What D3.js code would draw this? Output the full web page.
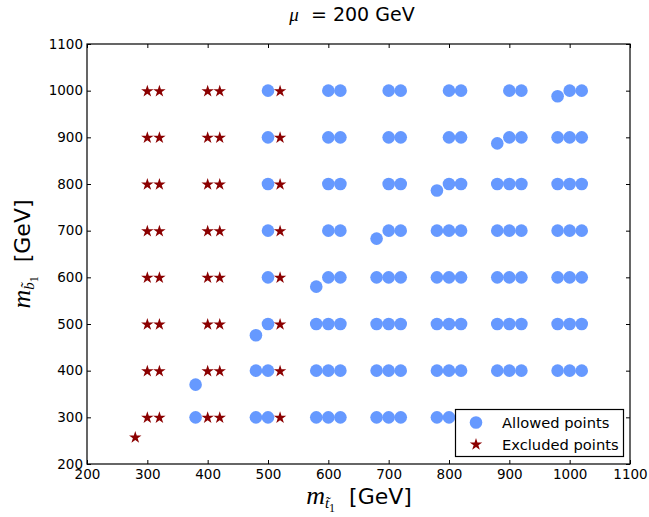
<!DOCTYPE html>
<html><head><meta charset="utf-8">
<script src="https://cdn.jsdelivr.net/npm/d3@7"></script>
<style>
body{margin:0;background:#fff;}
text{font-family:"DejaVu Sans",sans-serif;}
</style></head>
<body><svg id="c" width="649" height="517"></svg>
<script>
// ---- data ----
const allowedX = [500,600,620,700,720,800,820,900,920,1000,1020,
                  500,600,620,700,720,800,820,900,920,980,1000,1020,
                  500,600,620,700,720,800,820,880,900,920,980,1000,1020,
                  500,600,620,700,720,780,800,820,880,900,920,980,1000,1020,
                  500,600,620,680,700,720,780,800,820,880,900,920,980,1000,1020,
                  500,580,600,620,680,700,720,780,800,820,880,900,920,980,1000,1020,
                  480,500,580,600,620,680,700,720,780,800,820,880,900,920,980,1000,1020,
                  380,480,500,580,600,620,680,700,720,780,800,820,880,900,920,980,1000,1020,
                  980,880,780,680,580,480,380];
const allowedY = [1000,1000,1000,1000,1000,1000,1000,1000,1000,1000,1000,
                  900,900,900,900,900,900,900,900,900,900,900,900,
                  800,800,800,800,800,800,800,800,800,800,800,800,800,
                  700,700,700,700,700,700,700,700,700,700,700,700,700,700,
                  600,600,600,600,600,600,600,600,600,600,600,600,600,600,600,
                  500,500,500,500,500,500,500,500,500,500,500,500,500,500,500,500,
                  400,400,400,400,400,400,400,400,400,400,400,400,400,400,400,400,400,
                  300,300,300,300,300,300,300,300,300,300,300,300,300,300,300,300,300,300,
                  988,887,786,683,580,476,370];
const excludedX = [300,320,400,420,520, 300,320,400,420,520, 300,320,400,420,520, 300,320,400,420,520,
                   300,320,400,420,520, 300,320,400,420,520, 300,320,400,420,520, 300,320,400,420,520, 280];
const excludedY = [1000,1000,1000,1000,1000, 900,900,900,900,900, 800,800,800,800,800, 700,700,700,700,700,
                   600,600,600,600,600, 500,500,500,500,500, 400,400,400,400,400, 300,300,300,300,300, 258];
const xTicks = [200,300,400,500,600,700,800,900,1000,1100];
const yTicks = [200,300,400,500,600,700,800,900,1000,1100];
const legendLabels = ["Allowed points","Excluded points"];

// ---- chart ----
const svg = d3.select("#c");
const L=87, R=630, T=44, B=464;
const x = d3.scaleLinear().domain([200,1100]).range([L,R]);
const y = d3.scaleLinear().domain([200,1100]).range([B,T]);
const blue="#6699ff", red="#8b0000";
const fmt = d3.format("d");

const allowed = allowedX.map((v,i)=>({x:v,y:allowedY[i]}));
const excluded = excludedX.map((v,i)=>({x:v,y:excludedY[i]}));

svg.append("g").selectAll("circle").data(allowed).enter().append("circle")
  .attr("cx",d=>x(d.x)).attr("cy",d=>y(d.y)).attr("r",6.3).attr("fill",blue);
const star = d3.symbol().type(d3.symbolStar).size(48);
svg.append("g").selectAll("path").data(excluded).enter().append("path")
  .attr("d",star).attr("transform",d=>`translate(${x(d.x)},${y(d.y)+0.5})`).attr("fill",red);

// axes with inward ticks
function styleAxis(g){ g.select(".domain").remove(); g.selectAll("line").attr("stroke","#000"); g.selectAll("text").attr("font-size",13.5).attr("fill","#000").attr("font-family","DejaVu Sans"); }
svg.append("g").attr("transform",`translate(0,${B})`)
  .call(d3.axisBottom(x).tickValues(xTicks).tickFormat(fmt).tickSizeInner(-4).tickSizeOuter(0).tickPadding(5))
  .call(styleAxis);
svg.append("g").attr("transform",`translate(0,${T})`)
  .call(d3.axisTop(x).tickValues(xTicks).tickSizeInner(-4).tickSizeOuter(0).tickFormat(""))
  .call(styleAxis);
svg.append("g").attr("transform",`translate(${L},0)`)
  .call(d3.axisLeft(y).tickValues(yTicks).tickFormat(fmt).tickSizeInner(-4).tickSizeOuter(0).tickPadding(4))
  .call(styleAxis);
svg.append("g").attr("transform",`translate(${R},0)`)
  .call(d3.axisRight(y).tickValues(yTicks).tickSizeInner(-4).tickSizeOuter(0).tickFormat(""))
  .call(styleAxis);
svg.append("rect").attr("x",L).attr("y",T).attr("width",R-L).attr("height",B-T)
  .attr("fill","none").attr("stroke","#000").attr("stroke-width",1.2);

// legend
const lg = svg.append("g");
lg.append("rect").attr("x",455.5).attr("y",409.5).attr("width",168).attr("height",47)
  .attr("fill","#fff").attr("stroke","#000").attr("stroke-width",1.2);
lg.append("circle").attr("cx",476).attr("cy",422.5).attr("r",6.3).attr("fill",blue);
lg.append("path").attr("d",star).attr("transform","translate(476,444.5)").attr("fill",red);
legendLabels.forEach((t,i)=>{
  lg.append("text").attr("x",502).attr("y",428+i*21.5).attr("font-size",14.7).text(t);
});

// title
const title = svg.append("text").attr("x",352).attr("y",21).attr("text-anchor","middle").attr("font-size",19);
title.append("tspan").attr("font-family","Liberation Serif, serif").attr("font-style","italic").text("μ");
title.append("tspan").text("\u00a0 = 200 GeV");

// x label
const xl = svg.append("text").attr("x",359).attr("y",504).attr("text-anchor","middle").attr("font-size",22);
xl.append("tspan").attr("font-family","Liberation Serif, serif").attr("font-style","italic").attr("font-size",26).text("m");
xl.append("tspan").attr("font-family","Liberation Serif, serif").attr("font-style","italic").attr("font-size",15).attr("dy",4).text("t\u0303");
xl.append("tspan").attr("font-family","Liberation Serif, serif").attr("font-size",12).attr("dy",4).text("1");
xl.append("tspan").attr("dy",-8).text("\u00a0 [GeV]");

// y label
const yl = svg.append("text").attr("transform","translate(30,254) rotate(-90)").attr("text-anchor","middle").attr("font-size",22);
yl.append("tspan").attr("font-family","Liberation Serif, serif").attr("font-style","italic").attr("font-size",26).text("m");
yl.append("tspan").attr("font-family","Liberation Serif, serif").attr("font-style","italic").attr("font-size",15).attr("dy",4).text("b\u0303");
yl.append("tspan").attr("font-family","Liberation Serif, serif").attr("font-size",12).attr("dy",4).text("1");
yl.append("tspan").attr("dy",-8).text("\u00a0 [GeV]");
</script></body></html>
